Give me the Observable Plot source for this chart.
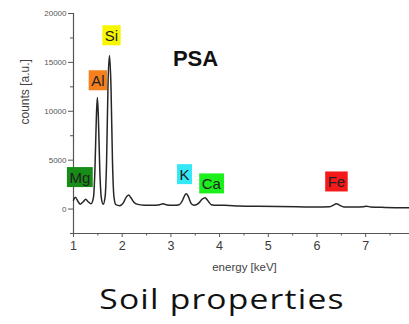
<!DOCTYPE html>
<html>
<head>
<meta charset="utf-8">
<script src="https://cdn.jsdelivr.net/npm/d3@7"></script>
<script src="https://cdn.jsdelivr.net/npm/@observablehq/plot@0.6"></script>
<style>
  body { margin: 0; background: #fff; }
  #wrap { position: relative; width: 409px; height: 324px; overflow: hidden; }
  #caption {
    position: absolute; left: 222px; top: 284px;
    font-family: "Open Sans", sans-serif; font-size: 28px; line-height: 1; letter-spacing: 1px;
    color: #111; white-space: nowrap;
    transform: translateX(-50%) scaleX(1.2);
  }
</style>
</head>
<body>
<div id="wrap">
  <div id="chart"></div>
  <div id="caption">Soil properties</div>
</div>
<script>
// EDX spectrum of the PSA sample: photon energy (keV) vs. counts
const energy = [
  1.00, 1.04, 1.09, 1.14, 1.20, 1.25, 1.30, 1.36, 1.41, 1.44, 1.47, 1.49, 1.51, 1.54, 1.57, 1.61,
  1.65, 1.68, 1.71, 1.74, 1.77, 1.80, 1.83, 1.87, 1.95, 2.02, 2.08, 2.13, 2.18, 2.24, 2.32, 2.45,
  2.60, 2.75, 2.84, 2.92, 3.05, 3.17, 3.24, 3.29, 3.32, 3.36, 3.42, 3.48, 3.56, 3.64, 3.70, 3.76,
  3.83, 3.95, 4.10, 4.40, 4.80, 5.20, 5.60, 6.00, 6.25, 6.33, 6.40, 6.47, 6.55, 6.80, 6.95, 7.02,
  7.10, 7.40, 7.70, 7.90
];
const counts = [
  900, 1200, 800, 500, 750, 1000, 750, 550, 1200, 4000, 9500, 11400, 9500, 4000, 1200, 500,
  1300, 5000, 13000, 15700, 12500, 5000, 1300, 450, 350, 600, 1200, 1430, 1150, 700, 480, 400,
  380, 420, 540, 420, 380, 450, 900, 1450, 1570, 1250, 550, 400, 550, 1000, 1160, 850,
  450, 380, 380, 320, 280, 250, 230, 210, 230, 380, 540, 380, 220, 200, 240, 280,
  220, 170, 140, 130
];

// Axis ticks
const xTicks = [1, 2, 3, 4, 5, 6, 7];
const xMinorTicks = [1.5, 2.5, 3.5, 4.5, 5.5, 6.5, 7.5];
const yTicks = [0, 5000, 10000, 15000, 20000];
const yMinorTicks = [-2500, 2500, 7500, 12500, 17500];

// Element tags placed next to their peaks
const elements = ["Mg", "Al", "Si", "K", "Ca", "Fe"];
const tagEnergy = [1.13, 1.50, 1.78, 3.28, 3.83, 6.40];
const tagCounts = [3200, 13100, 17700, 3500, 2550, 2750];

const title = "PSA";

const spectrum = energy.map((e, i) => ({energy: e, counts: counts[i]}));
const tags = elements.map((el, i) => ({el, energy: tagEnergy[i], counts: tagCounts[i]}));

const tagFill = {Mg: "#178c17", Al: "#f5801e", Si: "#f7f700", K: "#35e8f7", Ca: "#1cf01c", Fe: "#f51a1a"};

const font = "'Liberation Sans', Arial, sans-serif";

const chart = Plot.plot({
  width: 409,
  height: 277,
  marginLeft: 73,
  marginRight: 0,
  marginTop: 13,
  marginBottom: 44,
  style: {fontFamily: font, background: "#fff", overflow: "visible"},
  x: {domain: [1, 7.9]},
  y: {domain: [-2500, 20000]},
  marks: [
    Plot.axisY(yTicks, {tickSize: 5, tickPadding: 2, fontSize: 8, fill: "#555", stroke: "#555",
      tickFormat: d => String(d), label: null}),
    Plot.axisY(yMinorTicks, {tickSize: 3, text: null, stroke: "#555", label: null}),
    Plot.axisX(xTicks, {tickSize: 4, tickPadding: 4, fontSize: 12.5, fill: "#3a3a3a", stroke: "#555",
      tickFormat: d => String(d), label: null}),
    Plot.axisX(xMinorTicks, {tickSize: 2.5, text: null, stroke: "#555", label: null}),
    Plot.ruleX([1], {stroke: "#555", strokeWidth: 1.2}),
    Plot.ruleY([-2500], {stroke: "#555", strokeWidth: 1.2}),
    Plot.text(["energy [keV]"], {frameAnchor: "bottom", dx: 3, dy: 37, fontSize: 11.5, fill: "#444"}),
    Plot.text(["counts [a.u.]"], {frameAnchor: "left", rotate: -90, dx: -48, dy: 1, fontSize: 12, fill: "#444"}),
    Plot.line(spectrum, {x: "energy", y: "counts", stroke: "#262626", strokeWidth: 1.5, curve: "monotone-x"}),
    Plot.text([title], {frameAnchor: "top", dx: -46, dy: 37, fontSize: 22, fontWeight: "bold", fill: "#111"}),
    Plot.text(tags, {x: "energy", y: "counts", text: "el", fontSize: 15, fill: "#222", className: "tags"})
  ]
});

document.getElementById("chart").appendChild(chart);

// Colored boxes behind the element tags, sized to each label
const svgNS = "http://www.w3.org/2000/svg";
chart.querySelectorAll("g.tags text").forEach(t => {
  const bb = t.getBBox();
  const padX = 2.5, padY = 1.5;
  const r = document.createElementNS(svgNS, "rect");
  r.setAttribute("x", bb.x - padX);
  r.setAttribute("y", bb.y - padY);
  r.setAttribute("width", bb.width + 2 * padX);
  r.setAttribute("height", bb.height + 2 * padY);
  r.setAttribute("fill", tagFill[t.textContent]);
  const tr = t.getAttribute("transform");
  if (tr) r.setAttribute("transform", tr);
  t.parentNode.insertBefore(r, t);
});
</script>
</body>
</html>
